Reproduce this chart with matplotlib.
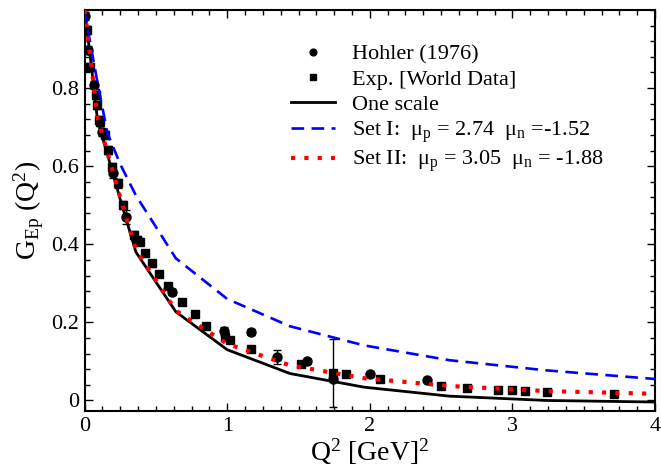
import matplotlib
matplotlib.use("Agg")
import matplotlib.pyplot as plt
from matplotlib.ticker import MultipleLocator, FixedLocator, FixedFormatter

plt.rcParams["font.family"] = ["Liberation Serif", "DejaVu Serif"]
plt.rcParams["mathtext.fontset"] = "custom"
plt.rcParams["mathtext.rm"] = "Liberation Serif"
plt.rcParams["mathtext.it"] = "Liberation Serif:italic"

# theory curves, Q^2 grid (GeV^2)
q2_grid = [0.0, 0.01, 0.04, 0.09, 0.16, 0.25, 0.36, 0.64, 1.0, 1.44, 1.96, 2.56, 3.24, 4.0]
one_scale = [1.0, 0.97, 0.88, 0.72, 0.63, 0.515, 0.38, 0.227, 0.13, 0.069, 0.034, 0.011, 0.0, -0.004]
set_one = [1.0, 0.975, 0.915, 0.815, 0.685, 0.605, 0.525, 0.364, 0.26, 0.19, 0.141, 0.103, 0.077, 0.055]
set_two = [1.0, 0.97, 0.882, 0.725, 0.635, 0.52, 0.385, 0.23, 0.145, 0.09, 0.057, 0.037, 0.024, 0.017]

# Hohler (1976) points
hoh_q2 = [0.005, 0.024, 0.064, 0.122, 0.197, 0.29, 0.615, 0.98, 1.167, 1.347, 1.56, 1.745, 2.0, 2.40]
hoh_g = [0.985, 0.897, 0.808, 0.688, 0.582, 0.469, 0.277, 0.178, 0.175, 0.112, 0.10, 0.055, 0.067, 0.052]
hoh_err = [0.01, 0.01, 0.01, 0.01, 0.012, 0.018, 0.008, 0.01, 0.008, 0.018, 0.007, 0.006, 0.006, 0.006]

# world data points
exp_q2 = [0.017, 0.04, 0.08, 0.087, 0.103, 0.108, 0.143, 0.166, 0.19, 0.237, 0.272, 0.346,
          0.365, 0.388, 0.424, 0.47, 0.524, 0.583, 0.681, 0.774, 0.851, 0.985, 1.02, 1.167,
          1.52, 1.745, 1.83, 2.07, 2.50, 2.68, 2.90, 3.0, 3.09, 3.24, 3.71]
exp_g = [0.948, 0.855, 0.782, 0.757, 0.718, 0.714, 0.68, 0.641, 0.599, 0.556, 0.50, 0.424,
         0.411, 0.407, 0.377, 0.351, 0.324, 0.294, 0.253, 0.221, 0.191, 0.163, 0.155, 0.132,
         0.093, 0.07, 0.068, 0.054, 0.037, 0.031, 0.026, 0.026, 0.024, 0.022, 0.017]
exp_err = [0.01, 0.01, 0.01, 0.01, 0.01, 0.01, 0.01, 0.01, 0.01, 0.012, 0.01, 0.01,
           0.01, 0.01, 0.008, 0.008, 0.008, 0.008, 0.008, 0.008, 0.008, 0.008, 0.008, 0.007,
           0.006, 0.087, 0.006, 0.006, 0.005, 0.005, 0.005, 0.006, 0.005, 0.005, 0.005]

fig = plt.figure(figsize=(6.61, 4.70), dpi=100)
ax = fig.add_axes([84.6 / 661, 1 - 411 / 470, (655 - 84.6) / 661, (411 - 10) / 470])

ax.errorbar(hoh_q2, hoh_g, yerr=hoh_err, fmt="none", ecolor="black", elinewidth=1, capsize=3, zorder=2)
ax.errorbar(exp_q2, exp_g, yerr=exp_err, fmt="none", ecolor="black", elinewidth=1, capsize=3, zorder=2)
ax.plot(hoh_q2, hoh_g, "o", color="black", markersize=6.5, linestyle="none", label="Hohler (1976)", zorder=3)
ax.plot(exp_q2, exp_g, "s", color="black", markersize=6, linestyle="none", label="Exp. [World Data]", zorder=3)

ax.plot(q2_grid, one_scale, "-", color="black", lw=2, label="One scale", zorder=4)
ax.plot(q2_grid, set_one, color="#0000ff", lw=1.9, linestyle=(0, (4.8, 2.8)),
        label="Set I:  μ$_{\\rm p}$ = 2.74  μ$_{\\rm n}$ =-1.52", zorder=4)
ax.plot(q2_grid, set_two, color="#ff0000", lw=3, linestyle=(0, (1, 2.2)),
        label="Set II:  μ$_{\\rm p}$ = 3.05  μ$_{\\rm n}$ = -1.88", zorder=5)

ax.set_xlim(0, 4)
ax.set_ylim(-0.027, 1.0)
ax.xaxis.set_major_locator(MultipleLocator(1))
ax.xaxis.set_minor_locator(MultipleLocator(0.125))
ax.yaxis.set_major_locator(FixedLocator([0, 0.2, 0.4, 0.6, 0.8]))
ax.yaxis.set_major_formatter(FixedFormatter(["0", "0.2", "0.4", "0.6", "0.8"]))
ax.yaxis.set_minor_locator(MultipleLocator(0.04))
ax.tick_params(which="both", direction="in", top=True, right=True, labelsize=16, width=1)
ax.tick_params(which="major", length=6, pad=4)
ax.tick_params(which="minor", length=3.5)
for sp in ax.spines.values():
    sp.set_linewidth(1.5)

ax.set_xlabel("Q$^2$ [GeV]$^2$", fontsize=20, labelpad=1)
ax.set_ylabel("G$_{\\rm Ep}$ (Q$^2$)", fontsize=20, labelpad=4)

leg = ax.legend(loc="upper left", bbox_to_anchor=(291 / 661, 1 - 44 / 470),
                bbox_transform=fig.transFigure, frameon=False, fontsize=16,
                handlelength=2.0, handletextpad=0.75, labelspacing=0.2,
                borderpad=0, borderaxespad=0, markerscale=0.75)

fig.savefig("out.png", dpi=100)
